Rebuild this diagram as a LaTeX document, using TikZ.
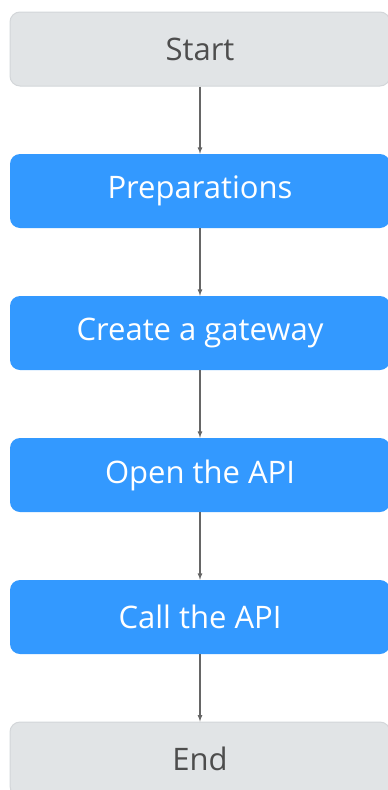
\documentclass[tikz,border=0pt]{standalone}
\usepackage{fontspec}
\setmainfont{Open Sans}
\usepackage{xcolor}
\usepackage{tikz}
\usetikzlibrary{shapes.geometric,arrows,calc,positioning}

\definecolor{endgray}{HTML}{E1E4E6}
\definecolor{endline}{HTML}{D3D6D9}
\definecolor{stepblue}{HTML}{3399FF}
\definecolor{textgray}{HTML}{4D4D4D}
\definecolor{arrowgray}{HTML}{666666}

\begin{document}
\begin{tikzpicture}[x=1pt,y=1pt]
	\tikzstyle{every node} = [rectangle, rounded corners = 10pt, minimum width = 380pt, minimum height = 74pt, font = \fontsize{31}{36}\selectfont]
	\tikzstyle{terminal} = [fill = endgray, draw = endline, line width = 1pt, text = textgray]
	\tikzstyle{stepbox} = [fill = stepblue, text = white]
	\useasboundingbox (0,0) rectangle (388,-790);
\node[terminal] (0) at (200, -49) {Start};
\node[stepbox] (1) at (200, -191) {Preparations};
\node[stepbox] (2) at (200, -333) {Create a gateway};
\node[stepbox] (3) at (200, -475) {Open the API};
\node[stepbox] (4) at (200, -617) {Call the API};
\node[terminal] (5) at (200, -759) {End};
	\path[draw, arrowgray, line width = 1.2pt, -latex] (0) -- (1);
	\path[draw, arrowgray, line width = 1.2pt, -latex] (1) -- (2);
	\path[draw, arrowgray, line width = 1.2pt, -latex] (2) -- (3);
	\path[draw, arrowgray, line width = 1.2pt, -latex] (3) -- (4);
	\path[draw, arrowgray, line width = 1.2pt, -latex] (4) -- (5);
\end{tikzpicture}
\end{document}
